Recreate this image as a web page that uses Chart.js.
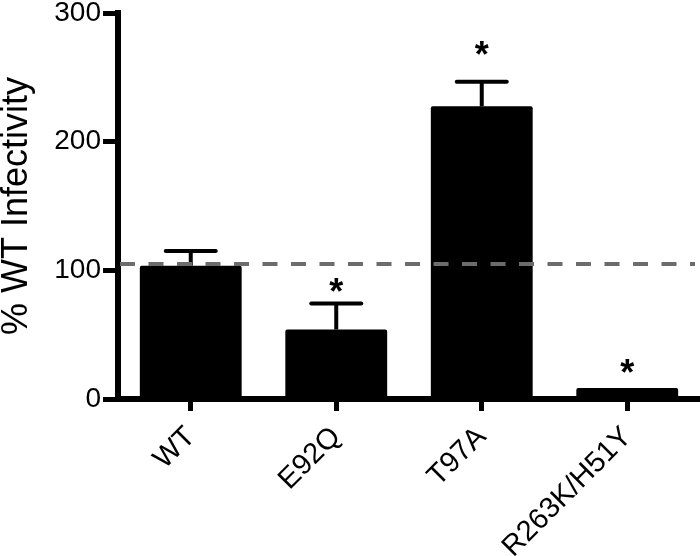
<!DOCTYPE html>
<html>
<head>
<meta charset="utf-8">
<script src="https://cdn.jsdelivr.net/npm/chart.js@4"></script>
<style>
  html, body { margin: 0; padding: 0; background: #ffffff; }
  #wrap { width: 700px; height: 556px; }
</style>
</head>
<body>
<div id="wrap"><canvas id="c" width="700" height="556"></canvas></div>
<script>
// ---- data ----
const categories = ['WT', 'E92Q', 'T97A', 'R263K/H51Y'];
const meanValues = [103.5, 54, 227.5, 8.5];
const errorValues = [11.5, 20.3, 19, 0];
const significanceMarks = [null, 89.5, 273.5, 26.5]; // asterisk heights (data units)
const yTickValues = [0, 100, 200, 300];
const referenceLine = 105;

const FONT = '"Liberation Sans", Arial, Helvetica, sans-serif';

const overlayPlugin = {
  id: 'overlay',
  beforeDraw(chart) {
    const ctx = chart.ctx;
    ctx.save();
    ctx.fillStyle = '#ffffff';
    ctx.fillRect(0, 0, chart.width, chart.height);
    ctx.restore();
  },
  afterDatasetsDraw(chart) {
    const ctx = chart.ctx;
    const ys = chart.scales.y;
    const meta = chart.getDatasetMeta(0);
    ctx.save();
    // error bars (upper only)
    ctx.strokeStyle = '#000000';
    ctx.lineWidth = 4;
    ctx.lineCap = 'butt';
    meta.data.forEach((bar, i) => {
      const err = errorValues[i];
      if (!err) return;
      const yTop = ys.getPixelForValue(meanValues[i] + err);
      const yBar = ys.getPixelForValue(meanValues[i]);
      ctx.beginPath();
      ctx.moveTo(bar.x, yBar);
      ctx.lineTo(bar.x, yTop);
      ctx.stroke();
      ctx.beginPath();
      ctx.lineCap = 'round';
      ctx.moveTo(bar.x - 25, yTop);
      ctx.lineTo(bar.x + 25, yTop);
      ctx.stroke();
      ctx.lineCap = 'butt';
    });
    // dashed reference line
    const yRef = ys.getPixelForValue(referenceLine);
    ctx.strokeStyle = '#6c6c6c';
    ctx.lineWidth = 4;
    ctx.setLineDash([15, 13.5]);
    ctx.beginPath();
    ctx.moveTo(chart.chartArea.left + 2, yRef);
    ctx.lineTo(chart.chartArea.right - 5, yRef);
    ctx.stroke();
    ctx.setLineDash([]);
    // asterisks
    ctx.fillStyle = '#000000';
    ctx.font = 'bold 36px ' + FONT;
    ctx.textAlign = 'center';
    ctx.textBaseline = 'alphabetic';
    meta.data.forEach((bar, i) => {
      const m = significanceMarks[i];
      if (m == null) return;
      const yc = ys.getPixelForValue(m);
      ctx.fillText('*', bar.x, yc + 20);
    });
    ctx.restore();
  }
};

new Chart(document.getElementById('c'), {
  type: 'bar',
  data: {
    labels: categories,
    datasets: [{
      data: meanValues,
      backgroundColor: '#000000',
      borderWidth: 0,
      borderRadius: 2,
      borderSkipped: 'bottom',
      barPercentage: 0.7,
      categoryPercentage: 1.0
    }]
  },
  options: {
    responsive: false,
    animation: false,
    devicePixelRatio: 1,
    layout: { padding: { top: 13, right: 0, left: 0, bottom: 0 } },
    plugins: {
      legend: { display: false },
      tooltip: { enabled: false }
    },
    scales: {
      x: {
        offset: true,
        grid: {
          offset: false,
          drawOnChartArea: false,
          drawTicks: true,
          tickLength: 12,
          tickWidth: 5,
          tickColor: '#000000'
        },
        border: { display: true, color: '#000000', width: 6 },
        ticks: {
          color: '#000000',
          font: { family: FONT, size: 29 },
          minRotation: 45,
          maxRotation: 45,
          padding: 9,
          autoSkip: false
        },
        afterFit(scale) {
          scale.height = 157;
          scale.paddingLeft = 0;
          scale.paddingRight = 0;
        }
      },
      y: {
        min: 0,
        max: 300,
        afterBuildTicks(scale) {
          scale.ticks = yTickValues.map(v => ({ value: v }));
        },
        grid: {
          drawOnChartArea: false,
          drawTicks: true,
          tickLength: 15,
          tickWidth: 5,
          tickColor: '#000000'
        },
        border: { display: true, color: '#000000', width: 6 },
        ticks: {
          color: '#000000',
          font: { family: FONT, size: 28 },
          padding: 2
        },
        title: {
          display: true,
          text: '% WT Infectivity',
          color: '#000000',
          font: { family: FONT, size: 36 },
          padding: { top: -5, bottom: 0 }
        },
        afterFit(scale) {
          scale.width = 118;
          scale.paddingTop = 0;
          scale.paddingBottom = 0;
        }
      }
    }
  },
  plugins: [overlayPlugin]
});
</script>
</body>
</html>
